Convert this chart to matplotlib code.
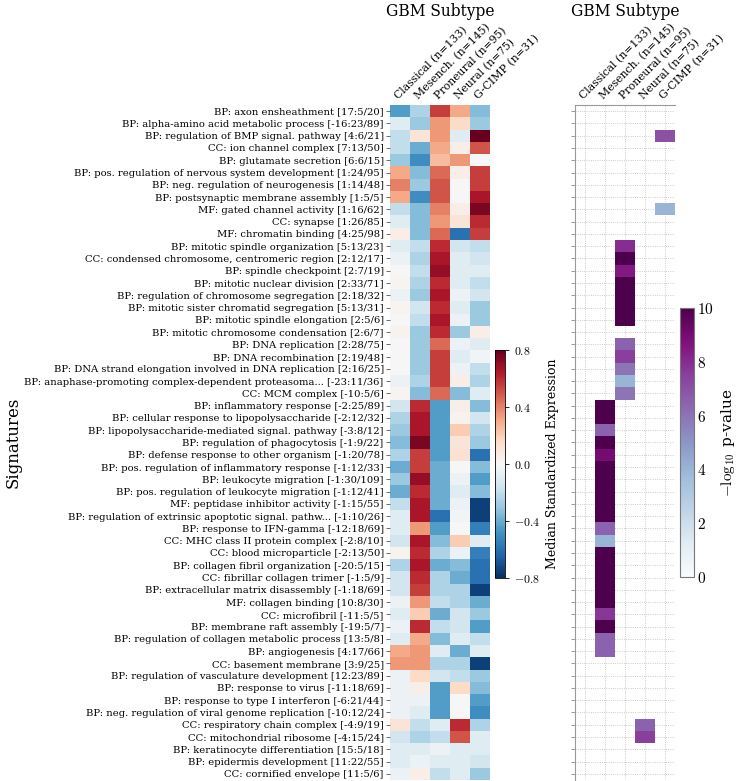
import numpy as np
import matplotlib
matplotlib.use("Agg")
import matplotlib.pyplot as plt
from matplotlib.ticker import FuncFormatter

plt.rcParams["font.family"] = ["DejaVu Serif"]
plt.rcParams["mathtext.fontset"] = "cm"

nan = np.nan

subtypes = ["Classical (n=133)", "Mesench. (n=145)", "Proneural (n=95)",
            "Neural (n=75)", "G-CIMP (n=31)"]

signatures = [
    "BP: axon ensheathment [17:5/20]",
    "BP: alpha-amino acid metabolic process [-16:23/89]",
    "BP: regulation of BMP signal. pathway [4:6/21]",
    "CC: ion channel complex [7:13/50]",
    "BP: glutamate secretion [6:6/15]",
    "BP: pos. regulation of nervous system development [1:24/95]",
    "BP: neg. regulation of neurogenesis [1:14/48]",
    "BP: postsynaptic membrane assembly [1:5/5]",
    "MF: gated channel activity [1:16/62]",
    "CC: synapse [1:26/85]",
    "MF: chromatin binding [4:25/98]",
    "BP: mitotic spindle organization [5:13/23]",
    "CC: condensed chromosome, centromeric region [2:12/17]",
    "BP: spindle checkpoint [2:7/19]",
    "BP: mitotic nuclear division [2:33/71]",
    "BP: regulation of chromosome segregation [2:18/32]",
    "BP: mitotic sister chromatid segregation [5:13/31]",
    "BP: mitotic spindle elongation [2:5/6]",
    "BP: mitotic chromosome condensation [2:6/7]",
    "BP: DNA replication [2:28/75]",
    "BP: DNA recombination [2:19/48]",
    "BP: DNA strand elongation involved in DNA replication [2:16/25]",
    "BP: anaphase-promoting complex-dependent proteasoma... [-23:11/36]",
    "CC: MCM complex [-10:5/6]",
    "BP: inflammatory response [-2:25/89]",
    "BP: cellular response to lipopolysaccharide [-2:12/32]",
    "BP: lipopolysaccharide-mediated signal. pathway [-3:8/12]",
    "BP: regulation of phagocytosis [-1:9/22]",
    "BP: defense response to other organism [-1:20/78]",
    "BP: pos. regulation of inflammatory response [-1:12/33]",
    "BP: leukocyte migration [-1:30/109]",
    "BP: pos. regulation of leukocyte migration [-1:12/41]",
    "MF: peptidase inhibitor activity [-1:15/55]",
    "BP: regulation of extrinsic apoptotic signal. pathw... [-1:10/26]",
    "BP: response to IFN-gamma [-12:18/69]",
    "CC: MHC class II protein complex [-2:8/10]",
    "CC: blood microparticle [-2:13/50]",
    "BP: collagen fibril organization [-20:5/15]",
    "CC: fibrillar collagen trimer [-1:5/9]",
    "BP: extracellular matrix disassembly [-1:18/69]",
    "MF: collagen binding [10:8/30]",
    "CC: microfibril [-11:5/5]",
    "BP: membrane raft assembly [-19:5/7]",
    "BP: regulation of collagen metabolic process [13:5/8]",
    "BP: angiogenesis [4:17/66]",
    "CC: basement membrane [3:9/25]",
    "BP: regulation of vasculature development [12:23/89]",
    "BP: response to virus [-11:18/69]",
    "BP: response to type I interferon [-6:21/44]",
    "BP: neg. regulation of viral genome replication [-10:12/24]",
    "CC: respiratory chain complex [-4:9/19]",
    "CC: mitochondrial ribosome [-4:15/24]",
    "BP: keratinocyte differentiation [15:5/18]",
    "BP: epidermis development [11:22/55]",
    "CC: cornified envelope [11:5/6]",
]

# median standardized expression, one list per subtype (rows follow `signatures`)
expr_classical = [-0.45, -0.10, -0.20, -0.20, -0.30, 0.30, 0.40, 0.30, -0.20, -0.10,
                  0.05, -0.10, -0.05, 0.00, 0.02, -0.05, 0.02, 0.00, 0.03, 0.00,
                  0.00, 0.00, -0.05, 0.02, -0.15, -0.25, -0.30, -0.35, -0.25, -0.40,
                  -0.30, -0.40, -0.20, -0.10, -0.10, -0.15, 0.03, -0.25, -0.15, -0.15,
                  -0.05, -0.10, -0.05, -0.10, 0.30, 0.35, -0.05, -0.05, -0.05, -0.05,
                  0.10, -0.15, -0.10, -0.10, -0.05]
expr_mesench = [-0.25, -0.30, 0.10, -0.40, -0.50, -0.35, -0.30, -0.50, -0.35, -0.35,
                -0.35, -0.20, -0.25, -0.20, -0.25, -0.30, -0.15, -0.20, -0.30, -0.30,
                -0.30, -0.30, -0.25, -0.35, 0.60, 0.65, 0.65, 0.75, 0.55, 0.55,
                0.70, 0.60, 0.65, 0.65, 0.35, 0.65, 0.60, 0.65, 0.60, 0.55,
                0.35, 0.20, 0.60, 0.30, 0.35, 0.35, 0.15, 0.05, -0.05, -0.10,
                -0.20, -0.25, -0.10, -0.05, 0.05]
expr_proneural = [0.55, 0.35, 0.35, 0.30, 0.25, 0.45, 0.50, 0.50, 0.40, 0.35,
                  0.45, 0.60, 0.65, 0.70, 0.60, 0.65, 0.60, 0.65, 0.60, 0.45,
                  0.55, 0.55, 0.55, 0.45, -0.45, -0.45, -0.45, -0.45, -0.45, -0.40,
                  -0.40, -0.40, -0.40, -0.60, -0.45, -0.35, -0.25, -0.40, -0.25, -0.25,
                  -0.20, -0.40, -0.20, -0.35, -0.10, -0.25, -0.15, -0.45, -0.45, -0.45,
                  -0.10, -0.20, -0.05, -0.10, -0.20]
expr_neural = [0.30, 0.15, -0.10, 0.05, 0.35, 0.05, 0.00, 0.00, 0.05, 0.10,
               -0.60, -0.15, -0.10, -0.10, -0.10, -0.05, -0.10, -0.05, -0.30, -0.05,
               -0.10, -0.05, 0.05, -0.35, 0.05, 0.03, 0.20, 0.10, 0.12, 0.00,
               -0.05, -0.10, -0.05, -0.02, 0.00, 0.20, -0.05, -0.35, -0.40, -0.25,
               -0.25, -0.15, -0.15, -0.10, -0.40, -0.25, -0.20, 0.15, 0.00, 0.00,
               0.60, 0.50, -0.10, -0.10, -0.10]
expr_gcimp = [-0.35, -0.30, 0.80, 0.50, 0.00, 0.55, 0.55, 0.65, 0.75, 0.60,
              0.55, -0.20, -0.15, -0.10, -0.20, -0.15, -0.30, -0.30, 0.05, -0.10,
              -0.02, -0.20, -0.25, -0.10, -0.35, -0.15, -0.25, -0.30, -0.60, -0.35,
              -0.45, -0.35, -0.75, -0.75, -0.55, -0.10, -0.55, -0.60, -0.60, -0.75,
              -0.40, -0.30, -0.45, -0.20, -0.10, -0.75, -0.30, -0.35, -0.45, -0.50,
              -0.25, -0.10, -0.10, -0.15, -0.30]

# -log10 p-value of subtype enrichment (blank = not significant)
pval_classical = [nan] * 55
pval_mesench = [nan] * 24 + [10, 10, 6.5, 10, 9, 10, 10, 10, 10, 10,
                             6.5, 4, 10, 10, 10, 10, 10, 7.7, 10, 6.5,
                             6.5] + [nan] * 10
pval_proneural = [nan] * 11 + [8, 10, 8.5, 10, 10, 10, 10, nan, 6.5, 7.5,
                               6, 4, 6] + [nan] * 31
pval_neural = [nan] * 50 + [6.5, 7.5, nan, nan, nan]
pval_gcimp = [nan, nan, 7, nan, nan, nan, nan, nan, 4] + [nan] * 46

expr = np.array([expr_classical, expr_mesench, expr_proneural,
                 expr_neural, expr_gcimp]).T
pvals = np.ma.masked_invalid(np.array([pval_classical, pval_mesench, pval_proneural,
                                       pval_neural, pval_gcimp], dtype=float).T)

W, H = 741, 781
fig = plt.figure(figsize=(W / 100, H / 100), dpi=100)


def px_axes(x0, y0, x1, y1):
    return fig.add_axes([x0 / W, 1 - y1 / H, (x1 - x0) / W, (y1 - y0) / H])


n_rows = len(signatures)
rows = np.arange(n_rows)
cols = np.arange(len(subtypes))

# left: expression heatmap
ax1 = px_axes(390, 105, 490, 780)
im1 = ax1.imshow(expr, cmap="RdBu_r", vmin=-0.8, vmax=0.8, aspect="auto",
                 interpolation="nearest")
ax1.set_yticks(rows)
ax1.set_yticklabels(signatures, fontsize=7.2)
ax1.set_xticks(cols)
ax1.set_xticklabels(subtypes, rotation=45, ha="left", rotation_mode="anchor",
                    fontsize=7.8)
ax1.xaxis.tick_top()
ax1.tick_params(axis="x", length=0, pad=3)
ax1.tick_params(axis="y", length=3, width=0.6, color="#555555", pad=1.5)
for s in ax1.spines.values():
    s.set_visible(False)
ax1.set_ylabel("Signatures", fontsize=12, labelpad=2)
fig.text(440 / W, 1 - 12 / H, "GBM Subtype", fontsize=11.2, ha="center", va="center")

cax1 = px_axes(495, 350, 505, 578)
cb1 = fig.colorbar(im1, cax=cax1, ticks=[-0.8, -0.4, 0.0, 0.4, 0.8])
cb1.ax.yaxis.set_major_formatter(FuncFormatter(lambda v, p: "$%.1f$" % v))
cb1.ax.tick_params(labelsize=8.5, length=3, width=0.6)
cb1.outline.set_linewidth(0.6)
cb1.set_label("Median Standardized Expression", fontsize=9)

# right: enrichment p-values
ax2 = px_axes(575, 105, 675, 780)
ax2.set_axisbelow(True)
im2 = ax2.pcolormesh(np.arange(len(subtypes) + 1) - 0.5, np.arange(n_rows + 1) - 0.5,
                     pvals, cmap="BuPu", vmin=0, vmax=10)
ax2.set_xlim(-0.5, len(subtypes) - 0.5)
ax2.set_ylim(n_rows - 0.5, -0.5)
ax2.set_yticks(rows)
ax2.set_yticklabels([])
ax2.set_xticks(cols)
ax2.set_xticklabels(subtypes, rotation=45, ha="left", rotation_mode="anchor",
                    fontsize=7.8)
ax2.xaxis.tick_top()
ax2.tick_params(axis="x", length=0, pad=3)
ax2.tick_params(axis="y", length=3, width=0.6, color="#888888")
ax2.grid(True, linestyle=":", linewidth=0.6, color="#bbbbbb")
for side in ["right", "bottom"]:
    ax2.spines[side].set_visible(False)
for side in ["left", "top"]:
    ax2.spines[side].set_color("#999999")
    ax2.spines[side].set_linewidth(0.8)
fig.text(625 / W, 1 - 12 / H, "GBM Subtype", fontsize=11.2, ha="center", va="center")

cax2 = px_axes(680, 308, 694, 577)
cb2 = fig.colorbar(im2, cax=cax2, ticks=[0, 2, 4, 6, 8, 10])
cb2.ax.yaxis.set_major_formatter(FuncFormatter(lambda v, p: "$%d$" % v))
cb2.ax.tick_params(labelsize=11, length=0, pad=2)
cb2.outline.set_edgecolor("#777777")
cb2.outline.set_linewidth(0.8)
cb2.set_label(r"$-\log_{10}$ p-value", fontsize=11)

fig.savefig("out.png", dpi=100)
